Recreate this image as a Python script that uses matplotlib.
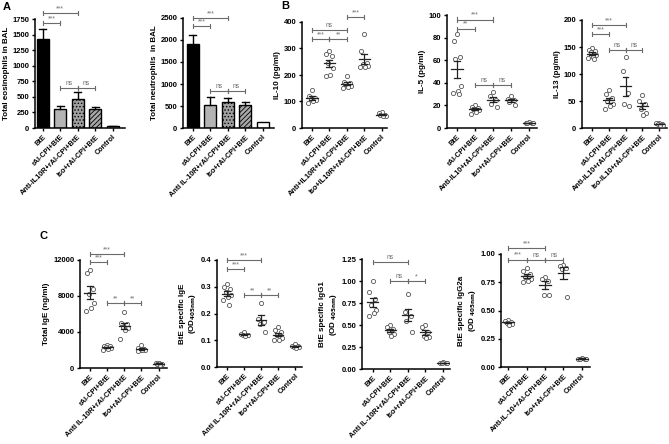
import numpy as np
import matplotlib
matplotlib.use("Agg")
import matplotlib.pyplot as plt

plt.rcParams['font.family'] = ['Liberation Sans', 'DejaVu Sans']
plt.rcParams['font.weight'] = 'bold'
plt.rcParams['hatch.linewidth'] = 0.6

W, H = 669, 444

# ---- data ----
cats_eos = ['BtE', 'rAl-CPI+BtE', 'Anti-IL10R+rAl-CPI+BtE', 'Iso+rAl-CPI+BtE', 'Control']
cats_neut = ['BtE', 'rAl-CPI+BtE', 'Anti IL-10R+rAl-CPI+BtE', 'Iso+rAl-CPI+BtE', 'Control']
cats_il10 = ['BtE', 'rAl-CPI+BtE', 'Anti+IL10R+rAl-CPI+BtE', 'Iso+IL10R+rAl-CPI+BtE', 'Control']
cats_il5 = ['BtE', 'rAl-CPI+BtE', 'Anti-IL10+rAl-CPI+BtE', 'Iso+rAl-CPI+BtE', 'Control']
cats_il13 = ['BtE', 'rAl-CPI+BtE', 'Anti-IL10+rAl-CPI+BtE', 'Iso-IL10+rAl-CPI+BtE', 'Control']
cats_ig = ['BtE', 'rAl-CPI+BtE', 'Anti IL-10R+rAl-CPI+BtE', 'Iso+rAl-CPI+BtE', 'Control']
cats_igg2a = ['BtE', 'rAl-CPI+BtE', 'Anti-IL-10+rAl-CPI+BtE', 'Iso+rAl-CPI+BtE', 'Control']

eos_mean = [1430, 300, 470, 310, 30]
eos_sem = [160, 50, 110, 30, 8]
neut_mean = [1920, 520, 600, 530, 145]
neut_sem = [190, 180, 80, 70, 0]

il10 = [[145, 120, 115, 110, 105, 100, 95],
        [290, 280, 270, 245, 225, 200, 195],
        [195, 175, 170, 165, 160, 155, 150],
        [355, 290, 245, 240, 235, 230, 230],
        [62, 55, 50, 48, 45, 44]]
il5 = [[83, 77, 63, 61, 37, 33, 31, 30],
       [20, 19, 18, 17, 16, 14, 12],
       [32, 28, 25, 21, 19],
       [28, 26, 25, 23, 20],
       [5, 4.5, 4, 4, 4]]
il13 = [[148, 145, 143, 140, 135, 132, 130, 128],
        [70, 63, 55, 50, 45, 40, 35],
        [132, 105, 65, 45, 40],
        [62, 50, 45, 35, 28, 25],
        [10, 9, 8, 7, 6, 5]]
total_ige = [[10900, 10600, 8800, 8200, 7200, 6700, 6300],
             [2600, 2500, 2400, 2300, 2200, 2100, 2000],
             [6200, 5000, 4900, 4600, 4400, 4200, 3200],
             [2600, 2200, 2100, 2050, 2000, 1950, 1900],
             [600, 550, 500, 450, 400, 350]]
spec_ige = [[0.31, 0.30, 0.29, 0.28, 0.27, 0.26, 0.25, 0.23],
            [0.13, 0.125, 0.12, 0.12, 0.12, 0.115],
            [0.24, 0.18, 0.17, 0.16, 0.13],
            [0.15, 0.14, 0.13, 0.12, 0.11, 0.10, 0.10],
            [0.085, 0.08, 0.078, 0.075, 0.075, 0.072]]
igg1 = [[1.0, 0.88, 0.79, 0.73, 0.67, 0.64, 0.60],
        [0.50, 0.48, 0.45, 0.42, 0.40, 0.38],
        [0.85, 0.65, 0.60, 0.55, 0.42],
        [0.50, 0.48, 0.42, 0.38, 0.36, 0.35],
        [0.075, 0.07, 0.07, 0.065, 0.065]]
igg2a = [[0.42, 0.41, 0.40, 0.39, 0.38, 0.37],
         [0.88, 0.85, 0.82, 0.80, 0.78, 0.76, 0.75],
         [0.80, 0.78, 0.76, 0.64, 0.64],
         [0.90, 0.89, 0.88, 0.87, 0.62],
         [0.08, 0.075, 0.075, 0.07, 0.07]]

# significance brackets: (group i, group j, y value, label)
sig_eos = [(0, 2, 1850, '***'), (0, 1, 1690, '***'), (1, 2, 640, 'ns'), (2, 3, 640, 'ns')]
sig_neut = [(0, 2, 2500, '***'), (0, 1, 2320, '***'), (1, 2, 840, 'ns'), (2, 3, 840, 'ns')]
sig_il10 = [(2, 3, 420, '***'), (0, 2, 370, 'ns'), (0, 1, 336, '***'), (1, 2, 336, '**')]
sig_il5 = [(0, 2, 96, '***'), (0, 1, 88, '**'), (1, 2, 38, 'ns'), (2, 3, 38, 'ns')]
sig_il13 = [(0, 2, 191, '***'), (0, 1, 174, '***'), (1, 2, 144, 'ns'), (2, 3, 144, 'ns')]
sig_tige = [(0, 2, 12650, '***'), (0, 1, 11750, '***'), (1, 2, 7200, '**'), (2, 3, 7200, '**')]
sig_sige = [(0, 2, 0.40, '***'), (0, 1, 0.365, '***'), (1, 2, 0.27, '**'), (2, 3, 0.27, '**')]
sig_igg1 = [(0, 2, 1.215, 'ns'), (1, 2, 1.0, 'ns'), (2, 3, 1.0, '*')]
sig_igg2a = [(0, 2, 1.05, '***'), (0, 1, 0.95, '***'), (1, 2, 0.95, 'ns'), (2, 3, 0.95, 'ns')]

GRAY = '#6b6b6b'


def make_axes(fig, left, right, top, bottom, ymax, yticks, ylabels, cats, ylabel, xlo, xhi):
    ax = fig.add_axes([left / W, (H - bottom) / H, (right - left) / W, (bottom - top) / H])
    ax.set_xlim(xlo, xhi)
    ax.set_ylim(0, ymax)
    for s in ['top', 'right']:
        ax.spines[s].set_visible(False)
    for s in ['left', 'bottom']:
        ax.spines[s].set_linewidth(1.1)
    ax.set_yticks(yticks)
    ax.set_yticklabels(ylabels, fontsize=5.5, fontweight='bold')
    ax.set_xticks(range(len(cats)))
    ax.set_xticklabels(cats, rotation=45, ha='right', rotation_mode='anchor',
                       fontsize=5.2, fontweight='bold')
    ax.tick_params(length=2.5, width=1.0, pad=1.5)
    ax.set_ylabel(ylabel, fontsize=5.8, fontweight='bold', labelpad=2)
    return ax


def brackets(ax, sigs, ymax):
    cap = ymax * 0.018
    for i, j, y, lab in sigs:
        ax.plot([i, j], [y, y], color=GRAY, lw=0.8, clip_on=False)
        for xx in (i, j):
            ax.plot([xx, xx], [y - cap, y + cap], color=GRAY, lw=0.8, clip_on=False)
        ax.text((i + j) / 2, y + cap * 0.4, lab, ha='center', va='bottom',
                fontsize=4.8, color=GRAY, fontweight='normal', clip_on=False)


def scatter_panel(ax, groups):
    pattern = [0.0, -0.18, 0.16, -0.08, 0.22, 0.06, -0.22, 0.12]
    for k, vals in enumerate(groups):
        vals = np.array(vals, dtype=float)
        offs = np.array([pattern[m % len(pattern)] for m in range(len(vals))])
        ax.scatter(k + offs, vals, s=9, facecolors='white', edgecolors='#555555',
                   linewidths=0.6, zorder=3, clip_on=False)
        m = vals.mean()
        se = vals.std(ddof=1) / np.sqrt(len(vals))
        ax.plot([k - 0.32, k + 0.32], [m, m], color='#222222', lw=0.9, zorder=4)
        ax.plot([k, k], [m - se, m + se], color='#222222', lw=0.9, zorder=4)
        for yy in (m - se, m + se):
            ax.plot([k - 0.17, k + 0.17], [yy, yy], color='#222222', lw=0.9, zorder=4)


def bar_panel(ax, means, sems):
    faces = ['black', '#b4b4b4', '#a0a0a0', '#a8a8a8', 'white']
    hatches = [None, None, '.....', '///////', None]
    for k, (m, s) in enumerate(zip(means, sems)):
        ax.bar(k, m, width=0.7, color=faces[k], edgecolor='black', linewidth=1.0,
               hatch=hatches[k], zorder=2)
        if s > 0:
            ax.plot([k, k], [m, m + s], color='black', lw=1.0, zorder=3)
            ax.plot([k - 0.2, k + 0.2], [m + s, m + s], color='black', lw=1.0, zorder=3)


fig = plt.figure(figsize=(W / 100, H / 100), dpi=100)

# ---- row A ----
ax = make_axes(fig, 35, 125, 19, 128, 1750, range(0, 1751, 250),
               [str(v) for v in range(0, 1751, 250)], cats_eos,
               'Total eosinophils in BAL', -0.44, 4.7)
bar_panel(ax, eos_mean, eos_sem)
brackets(ax, sig_eos, 1750)

ax = make_axes(fig, 183, 274, 18, 128, 2500, range(0, 2501, 500),
               [str(v) for v in range(0, 2501, 500)], cats_neut,
               'Total neutrophils  in BAL', -0.57, 4.65)
bar_panel(ax, neut_mean, neut_sem)
brackets(ax, sig_neut, 2500)

# ---- row B ----
ax = make_axes(fig, 302, 387, 22, 128, 400, range(0, 401, 100),
               [str(v) for v in range(0, 401, 100)], cats_il10,
               'IL-10 (pg/ml)', -0.57, 4.3)
scatter_panel(ax, il10)
brackets(ax, sig_il10, 400)

ax = make_axes(fig, 447, 537, 15, 128, 100, range(0, 101, 20),
               [str(v) for v in range(0, 101, 20)], cats_il5,
               'IL-5 (pg/ml)', -0.55, 4.45)
scatter_panel(ax, il5)
brackets(ax, sig_il5, 100)

ax = make_axes(fig, 582, 667, 20, 128, 200, range(0, 201, 50),
               [str(v) for v in range(0, 201, 50)], cats_il13,
               'IL-13 (pg/ml)', -0.6, 4.47)
scatter_panel(ax, il13)
brackets(ax, sig_il13, 200)

# ---- row C ----
ax = make_axes(fig, 80, 167, 260, 368, 12000, range(0, 12001, 4000),
               [str(v) for v in range(0, 12001, 4000)], cats_ig,
               'Total IgE (ng/ml)', -0.58, 4.49)
scatter_panel(ax, total_ige)
brackets(ax, sig_tige, 12000)

ax = make_axes(fig, 217, 302, 260, 367, 0.4, np.arange(0, 0.41, 0.1),
               ['0.0', '0.1', '0.2', '0.3', '0.4'], cats_ig,
               'BtE specific IgE\n(OD$_{\\mathbf{405nm}}$)', -0.59, 4.41)
scatter_panel(ax, spec_ige)
brackets(ax, sig_sige, 0.4)

ax = make_axes(fig, 362, 450, 259, 369, 1.25, np.arange(0, 1.26, 0.25),
               ['0.00', '0.25', '0.50', '0.75', '1.00', '1.25'], cats_ig,
               'BtE specific IgG1\n(OD $_{\\mathbf{405nm}}$)', -0.6, 4.4)
scatter_panel(ax, igg1)
brackets(ax, sig_igg1, 1.25)

ax = make_axes(fig, 501, 590, 254, 367, 1.0, np.arange(0, 1.01, 0.25),
               ['0.00', '0.25', '0.50', '0.75', '1.00'], cats_igg2a,
               'BtE specific IgG2a\n(OD $_{\\mathbf{405nm}}$)', -0.4, 4.45)
scatter_panel(ax, igg2a)
brackets(ax, sig_igg2a, 1.0)

# panel letters
for lab, x, y in [('A', 3, 2), ('B', 281, 1), ('C', 40, 231)]:
    fig.text(x / W, 1 - y / H, lab, fontsize=8, fontweight='bold', va='top', ha='left')

fig.savefig('out.png', dpi=100)
